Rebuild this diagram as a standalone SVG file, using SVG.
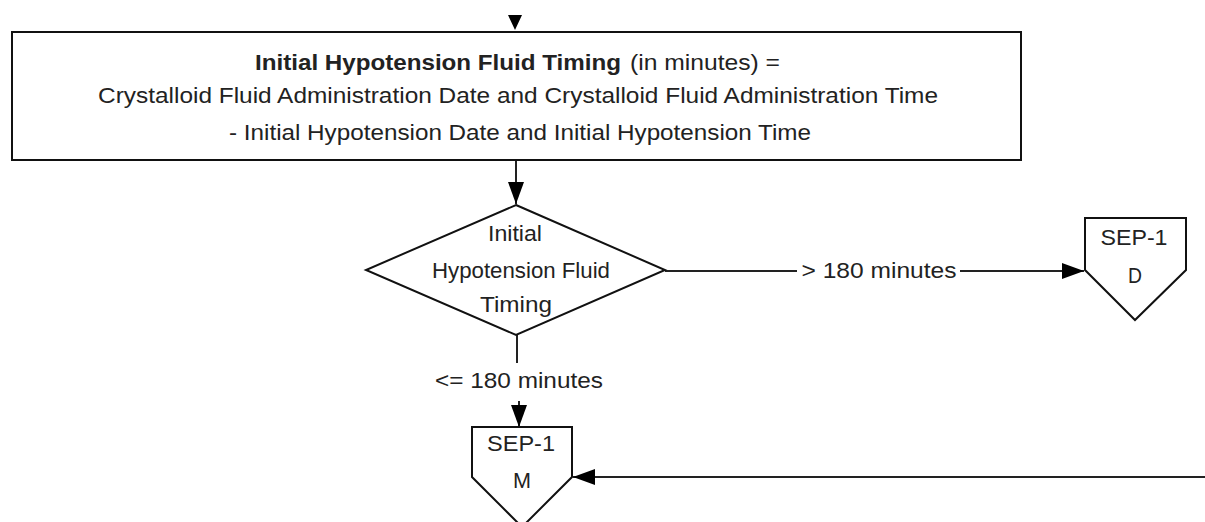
<svg xmlns="http://www.w3.org/2000/svg" width="1205" height="522" viewBox="0 0 1205 522">
<style>
.shape{fill:#fff;stroke:#111;stroke-width:2}
.ln{stroke:#222;stroke-width:2;fill:none}
.t{font-family:"Liberation Sans",Arial,sans-serif;font-size:22px;fill:#222;text-anchor:middle}
.b{font-weight:bold}
</style>
<defs>
<marker id="ah" markerUnits="userSpaceOnUse" markerWidth="24" markerHeight="18" refX="22" refY="9" orient="auto">
<path d="M0,1 L22,9 L0,17 Z" fill="#000"/>
</marker>
</defs>
<rect width="1205" height="522" fill="#fff"/>
<g id="connectors">
<path d="M508,15 L522,15 L515,30 Z" fill="#000"/>
<line class="ln" x1="516" y1="160" x2="516" y2="204" marker-end="url(#ah)"/>
<line class="ln" x1="665" y1="271" x2="797" y2="271"/>
<line class="ln" x1="960" y1="271" x2="1084" y2="271" marker-end="url(#ah)"/>
<text class="t" x="879" y="278" textLength="155" lengthAdjust="spacingAndGlyphs">&gt; 180 minutes</text>
<line class="ln" x1="517" y1="335" x2="517" y2="363"/>
<text class="t" x="519" y="388" textLength="168" lengthAdjust="spacingAndGlyphs">&lt;= 180 minutes</text>
<line class="ln" x1="519" y1="401" x2="519" y2="427" marker-end="url(#ah)"/>
<line class="ln" x1="1205" y1="477" x2="573" y2="477" marker-end="url(#ah)"/>
</g>
<g id="calc">
<rect class="shape" x="12" y="32" width="1009" height="128"/>
<text class="t" y="70"><tspan class="b" x="438" textLength="366" lengthAdjust="spacingAndGlyphs">Initial Hypotension Fluid Timing</tspan><tspan x="705" textLength="150" lengthAdjust="spacingAndGlyphs">(in minutes) =</tspan></text>
<text class="t" x="518" y="103" textLength="840" lengthAdjust="spacingAndGlyphs">Crystalloid Fluid Administration Date and Crystalloid Fluid Administration Time</text>
<text class="t" x="520" y="140" textLength="582" lengthAdjust="spacingAndGlyphs">- Initial Hypotension Date and Initial Hypotension Time</text>
</g>
<g id="decision">
<polygon class="shape" points="516,205 665,270 516,335 366,270"/>
<text class="t" x="515" y="241" textLength="54" lengthAdjust="spacingAndGlyphs">Initial</text>
<text class="t" x="521" y="278" textLength="178" lengthAdjust="spacingAndGlyphs">Hypotension Fluid</text>
<text class="t" x="516" y="312" textLength="72" lengthAdjust="spacingAndGlyphs">Timing</text>
</g>
<g id="sep1-d">
<polygon class="shape" points="1085,218 1186,218 1186,270 1135,320 1085,270"/>
<text class="t" x="1134" y="245" textLength="67" lengthAdjust="spacingAndGlyphs">SEP-1</text>
<text class="t" x="1135" y="283" textLength="14" lengthAdjust="spacingAndGlyphs">D</text>
</g>
<g id="sep1-m">
<polygon class="shape" points="472,427 572,427 572,477 522,527 472,477"/>
<text class="t" x="521" y="451" textLength="68" lengthAdjust="spacingAndGlyphs">SEP-1</text>
<text class="t" x="522" y="488" textLength="18" lengthAdjust="spacingAndGlyphs">M</text>
</g>
</svg>
